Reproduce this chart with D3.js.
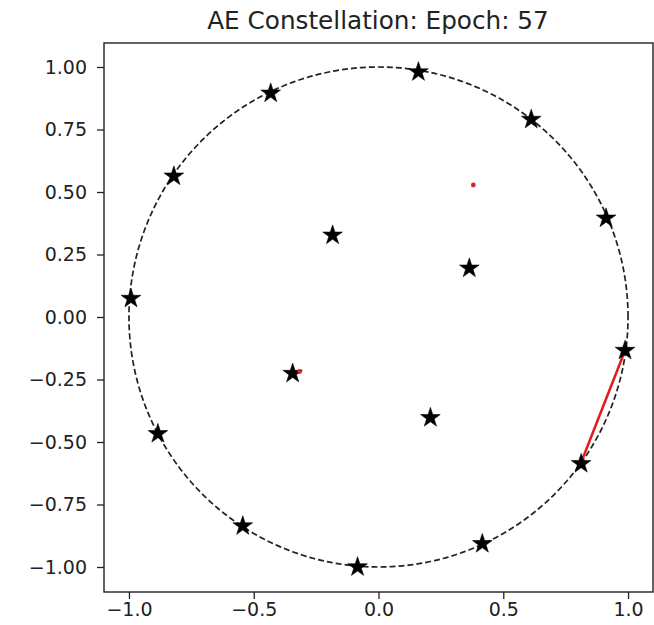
<!DOCTYPE html>
<html><head><meta charset="utf-8">
<script src="https://cdn.jsdelivr.net/npm/d3@7"></script>
<style>body{margin:0;background:#fff;} text{font-family:"DejaVu Sans",sans-serif;}</style>
</head><body>
<svg id="c" width="654" height="625"></svg>
<script>
const title = "AE Constellation: Epoch: 57";
const starX = [0.16, 0.612, -0.432, -0.82, 0.912, -0.184, 0.364, -0.992, 0.988, -0.344, 0.208, -0.884, 0.812, -0.544, 0.416, -0.084];
const starY = [0.98, 0.79, 0.895, 0.563, 0.395, 0.327, 0.195, 0.074, -0.134, -0.226, -0.403, -0.467, -0.587, -0.836, -0.907, -1.0];
const redX = [0.38, -0.316];
const redY = [0.528, -0.218];
const lineX = [0.988, 0.81];
const lineY = [-0.134, -0.587];
const xTicks = [-1.0, -0.5, 0.0, 0.5, 1.0];
const yTicks = [1.0, 0.75, 0.5, 0.25, 0.0, -0.25, -0.5, -0.75, -1.0];

const svg = d3.select("#c");
const L = 104, R = 653, T = 43, B = 592;
const x = d3.scaleLinear().domain([-1.1, 1.1]).range([L, R]);
const y = d3.scaleLinear().domain([-1.1, 1.096]).range([B, T]);

const fmtY = v => (v < 0 ? "\u2212" : "") + Math.abs(v).toFixed(2);
const fmtX = v => (v < 0 ? "\u2212" : "") + Math.abs(v).toFixed(1);

// circle
const th = d3.range(0, 361, 1).map(d => d * Math.PI / 180);
svg.append("path")
  .attr("d", d3.line().x(t => x(Math.cos(t))).y(t => y(Math.sin(t)))(th))
  .attr("fill", "none").attr("stroke", "#222").attr("stroke-width", 1.7)
  .attr("stroke-dasharray", "6,3");

// red line
svg.append("path")
  .attr("d", d3.line().x((d,i) => x(lineX[i])).y((d,i) => y(lineY[i]))(lineX))
  .attr("stroke", "#e31a1c").attr("stroke-width", 2.5).attr("fill", "none");

// stars
const star = d3.symbol().type(d3.symbolStar).size(120);
svg.append("g").selectAll("path").data(starX).join("path")
  .attr("d", star)
  .attr("transform", (d,i) => `translate(${x(starX[i])},${y(starY[i])})`)
  .attr("fill", "#000").attr("stroke", "#000").attr("stroke-width", 0.6);

// red dots
svg.append("g").selectAll("circle").data(redX).join("circle")
  .attr("cx", (d,i) => x(redX[i])).attr("cy", (d,i) => y(redY[i]))
  .attr("r", 2.4).attr("fill", "#d62728");

// axes
const xa = svg.append("g").attr("transform", `translate(0,${B})`)
  .call(d3.axisBottom(x).tickValues(xTicks).tickFormat(fmtX).tickSize(7).tickPadding(4));
const ya = svg.append("g").attr("transform", `translate(${L},0)`)
  .call(d3.axisLeft(y).tickValues(yTicks).tickFormat(fmtY).tickSize(7).tickPadding(10));
[xa, ya].forEach(a => {
  a.attr("font-size", 19).attr("font-family", "DejaVu Sans");
  a.select(".domain").remove();
  a.selectAll("text").attr("font-size", 19).attr("fill", "#222");
  a.selectAll("line").attr("stroke", "#222").attr("stroke-width", 1.3);
});

// frame
svg.append("rect").attr("x", L).attr("y", T).attr("width", R - L).attr("height", B - T)
  .attr("fill", "none").attr("stroke", "#222").attr("stroke-width", 1.4);

svg.append("text").attr("x", 378).attr("y", 29).attr("text-anchor", "middle")
  .attr("font-size", 24.7).attr("fill", "#222").text(title);
</script>
</body></html>
